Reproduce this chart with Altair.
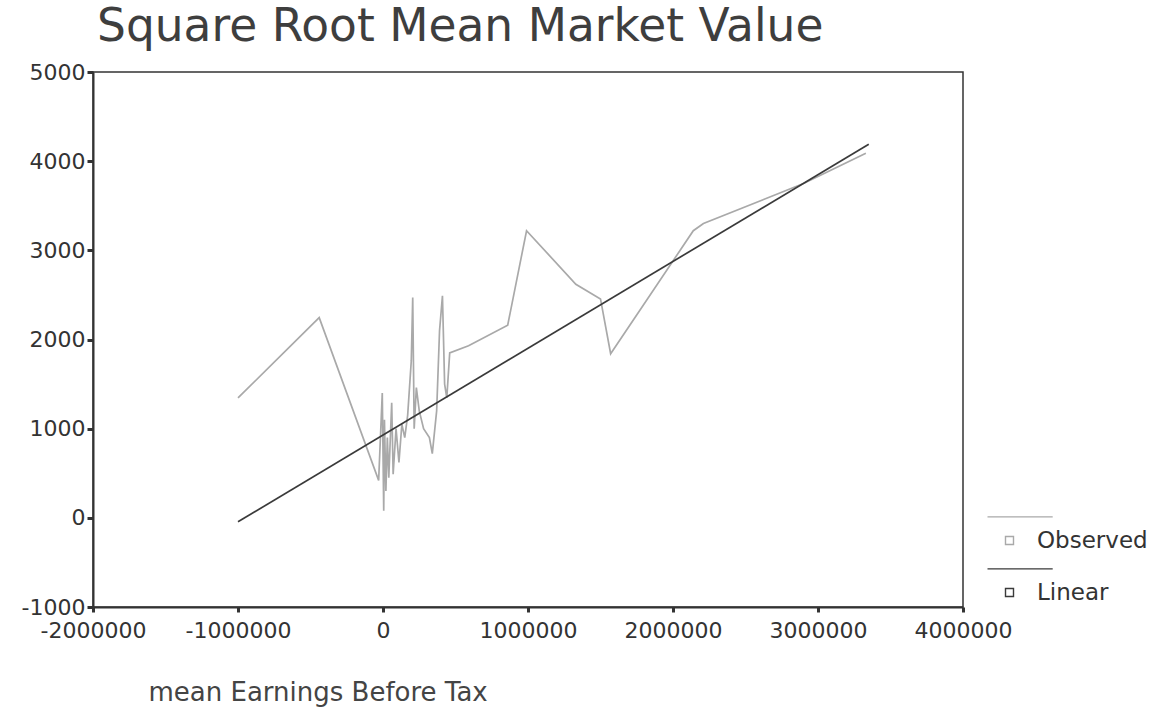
import altair as alt
import pandas as pd

# Observed points (mean earnings before tax, square-root mean market value)
obs_x = [-1000000, -440000, -30000, -5000, 5000, 10000, 20000, 30000, 40000,
         60000, 70000, 90000, 110000, 130000, 150000, 170000, 195000, 205000,
         215000, 230000, 250000, 280000, 320000, 340000, 370000, 390000,
         410000, 425000, 440000, 460000, 590000, 860000, 990000, 1330000,
         1500000, 1570000, 2140000, 2210000, 2900000, 3330000]
obs_y = [1345, 2245, 420, 1400, 80, 1100, 300, 900, 450,
         1290, 490, 1000, 620, 1050, 900, 1150, 1760, 2470,
         1000, 1460, 1200, 1000, 900, 720, 1200, 2100,
         2490, 1500, 1345, 1850, 1930, 2160, 3220, 2620,
         2455, 1840, 3220, 3300, 3750, 4090]

# Fitted linear model, drawn between its two end points
lin_x = [-1000000, 3350000]
lin_y = [-45, 4190]

series_names = ["Observed", "Linear"]
series_colors = ["#a9a9a9", "#3a3a3a"]

x_ticks = [-2000000, -1000000, 0, 1000000, 2000000, 3000000, 4000000]
y_ticks = [-1000, 0, 1000, 2000, 3000, 4000, 5000]

df = pd.concat([
    pd.DataFrame({"x": obs_x, "y": obs_y, "series": "Observed", "order": range(len(obs_x))}),
    pd.DataFrame({"x": lin_x, "y": lin_y, "series": "Linear", "order": range(len(lin_x))}),
])

FONT = "DejaVu Sans"
INK = "#333333"
PLAIN_NUMBER = "'' + datum.value"

# legend glyph: a short line above a small open square
legend_glyph = "M-5.5,-5.9L10.8,-5.9M-1,-1L1,-1L1,1L-1,1Z"

chart = alt.Chart(df).mark_line(strokeWidth=1.7).encode(
    x=alt.X("x:Q",
            scale=alt.Scale(domain=[-2000000, 4000000], nice=False, zero=False),
            axis=alt.Axis(values=x_ticks, labelExpr=PLAIN_NUMBER, title="mean Earnings Before Tax",
                          titleAnchor="start", titleAlign="left", titleBaseline="alphabetic",
                          titleX=55, titleY=93, titleFontSize=26, titleFontWeight="normal",
                          titleFont=FONT, titleColor="#444444",
                          labelFont=FONT, labelFontSize=22, labelColor=INK,
                          labelPadding=8, tickSize=5, tickWidth=3, tickColor=INK,
                          domainColor=INK, domainWidth=2, grid=False, labelFlush=False)),
    y=alt.Y("y:Q",
            scale=alt.Scale(domain=[-1000, 5000], nice=False, zero=False),
            axis=alt.Axis(values=y_ticks, labelExpr=PLAIN_NUMBER, title=None,
                          labelFont=FONT, labelFontSize=22, labelColor=INK,
                          labelPadding=2, tickSize=6, tickWidth=3, tickColor=INK,
                          domainColor=INK, domainWidth=2, grid=False, labelFlush=False)),
    color=alt.Color("series:N",
                    scale=alt.Scale(domain=series_names, range=series_colors),
                    legend=alt.Legend(title=None, orient="none", legendX=905, legendY=457,
                                      symbolType=legend_glyph, symbolSize=64,
                                      symbolStrokeWidth=1.4, symbolFillColor="white",
                                      labelFont=FONT, labelFontSize=23, labelColor=INK,
                                      labelOffset=16, rowPadding=13)),
    order="order:Q",
).properties(
    width=870,
    height=535,
    title=alt.TitleParams("Square Root Mean Market Value", anchor="start", frame="group",
                          font=FONT, fontSize=45.5, fontWeight="normal", color="#3e3e3e",
                          offset=11, dx=4),
    autosize=alt.AutoSizeParams(type="none"),
    padding={"left": 93, "top": 72, "right": 202, "bottom": 105},
    background="white",
).configure_view(stroke=INK, strokeWidth=1.5)

chart.save("out.html", embed_options={"renderer": "svg", "actions": False})
